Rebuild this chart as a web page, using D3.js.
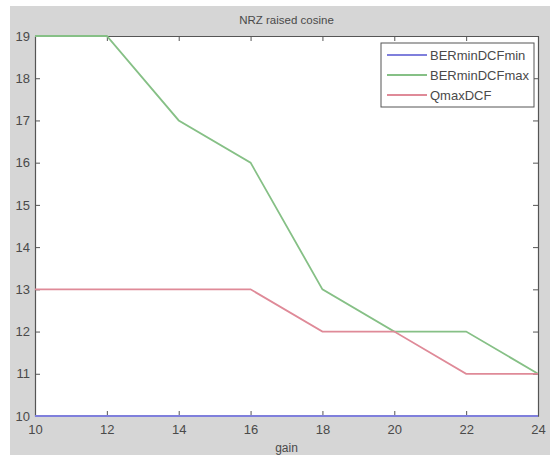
<!DOCTYPE html>
<html><head><meta charset="utf-8">
<script src="https://cdn.jsdelivr.net/npm/d3@7"></script>
<style>body{margin:0;background:#fff}svg{display:block}</style>
</head><body>
<script>
const gain = [10, 12, 14, 16, 18, 20, 22, 24];
const BERminDCFmin = [10, 10, 10, 10, 10, 10, 10, 10];
const BERminDCFmax = [19, 19, 17, 16, 13, 12, 12, 11];
const QmaxDCF = [13, 13, 13, 13, 12, 12, 11, 11];
const xTicks = [10, 12, 14, 16, 18, 20, 22, 24];
const yTicks = [10, 11, 12, 13, 14, 15, 16, 17, 18, 19];
const seriesNames = ["BERminDCFmin", "BERminDCFmax", "QmaxDCF"];
const seriesColors = ["#7f7fdc", "#86c086", "#df8a98"];
const seriesData = [BERminDCFmin, BERminDCFmax, QmaxDCF];

const W = 550, H = 455;
const L = 35, R = 538, T = 36, B = 416;
const svg = d3.select("body").append("svg").attr("width", W).attr("height", H);
svg.append("rect").attr("x", 10).attr("y", 6).attr("width", W - 10).attr("height", H - 6).attr("fill", "#d6d6d6");
svg.append("rect").attr("x", L).attr("y", T).attr("width", R - L).attr("height", B - T).attr("fill", "#fff");

const x = d3.scaleLinear().domain([10, 24]).range([L, R]);
const y = d3.scaleLinear().domain([10, 19]).range([B, T]);
const font = "Liberation Sans, Arial, sans-serif";
const tc = "#4a4a4a";

const ax = svg.append("g").attr("transform", `translate(0,${B})`)
  .call(d3.axisBottom(x).tickValues(xTicks).tickSizeInner(-5).tickSizeOuter(0).tickPadding(9));
const axT = svg.append("g").attr("transform", `translate(0,${T})`)
  .call(d3.axisTop(x).tickValues(xTicks).tickSizeInner(-5).tickSizeOuter(0).tickFormat(""));
const ay = svg.append("g").attr("transform", `translate(${L},0)`)
  .call(d3.axisLeft(y).tickValues(yTicks).tickSizeInner(-5).tickSizeOuter(0).tickPadding(9));
const ayR = svg.append("g").attr("transform", `translate(${R},0)`)
  .call(d3.axisRight(y).tickValues(yTicks).tickSizeInner(-5).tickSizeOuter(0).tickFormat(""));
[ax, axT, ay, ayR].forEach(g => {
  g.selectAll("path").attr("stroke", "#555").attr("stroke-width", 1.2);
  g.selectAll("line").attr("stroke", "#555");
  g.selectAll("text").attr("fill", tc).style("font-family", font).style("font-size", "13px");
});
ay.selectAll("text").attr("x", -5);

const line = d3.line().x(d => x(d[0])).y(d => y(d[1]));
seriesData.forEach((vals, i) => {
  svg.append("path").datum(gain.map((g, j) => [g, vals[j]]))
    .attr("d", line).attr("fill", "none").attr("stroke", seriesColors[i]).attr("stroke-width", 1.8);
});

svg.append("text").attr("x", (L + R) / 2).attr("y", 24).attr("text-anchor", "middle")
  .attr("fill", tc).style("font-family", font).style("font-size", "11.5px").text("NRZ raised cosine");
svg.append("text").attr("x", (L + R) / 2).attr("y", 452).attr("text-anchor", "middle")
  .attr("fill", tc).style("font-family", font).style("font-size", "12px").text("gain");

const lg = svg.append("g");
lg.append("rect").attr("x", 381).attr("y", 43).attr("width", 153).attr("height", 64)
  .attr("fill", "#fff").attr("stroke", "#555").attr("stroke-width", 1);
seriesNames.forEach((n, i) => {
  const yy = 55 + i * 20;
  lg.append("line").attr("x1", 387).attr("x2", 427).attr("y1", yy).attr("y2", yy)
    .attr("stroke", seriesColors[i]).attr("stroke-width", 1.8);
  lg.append("text").attr("x", 430).attr("y", yy + 4.5).attr("fill", tc)
    .style("font-family", font).style("font-size", "13px").text(n);
});
</script>
</body></html>
